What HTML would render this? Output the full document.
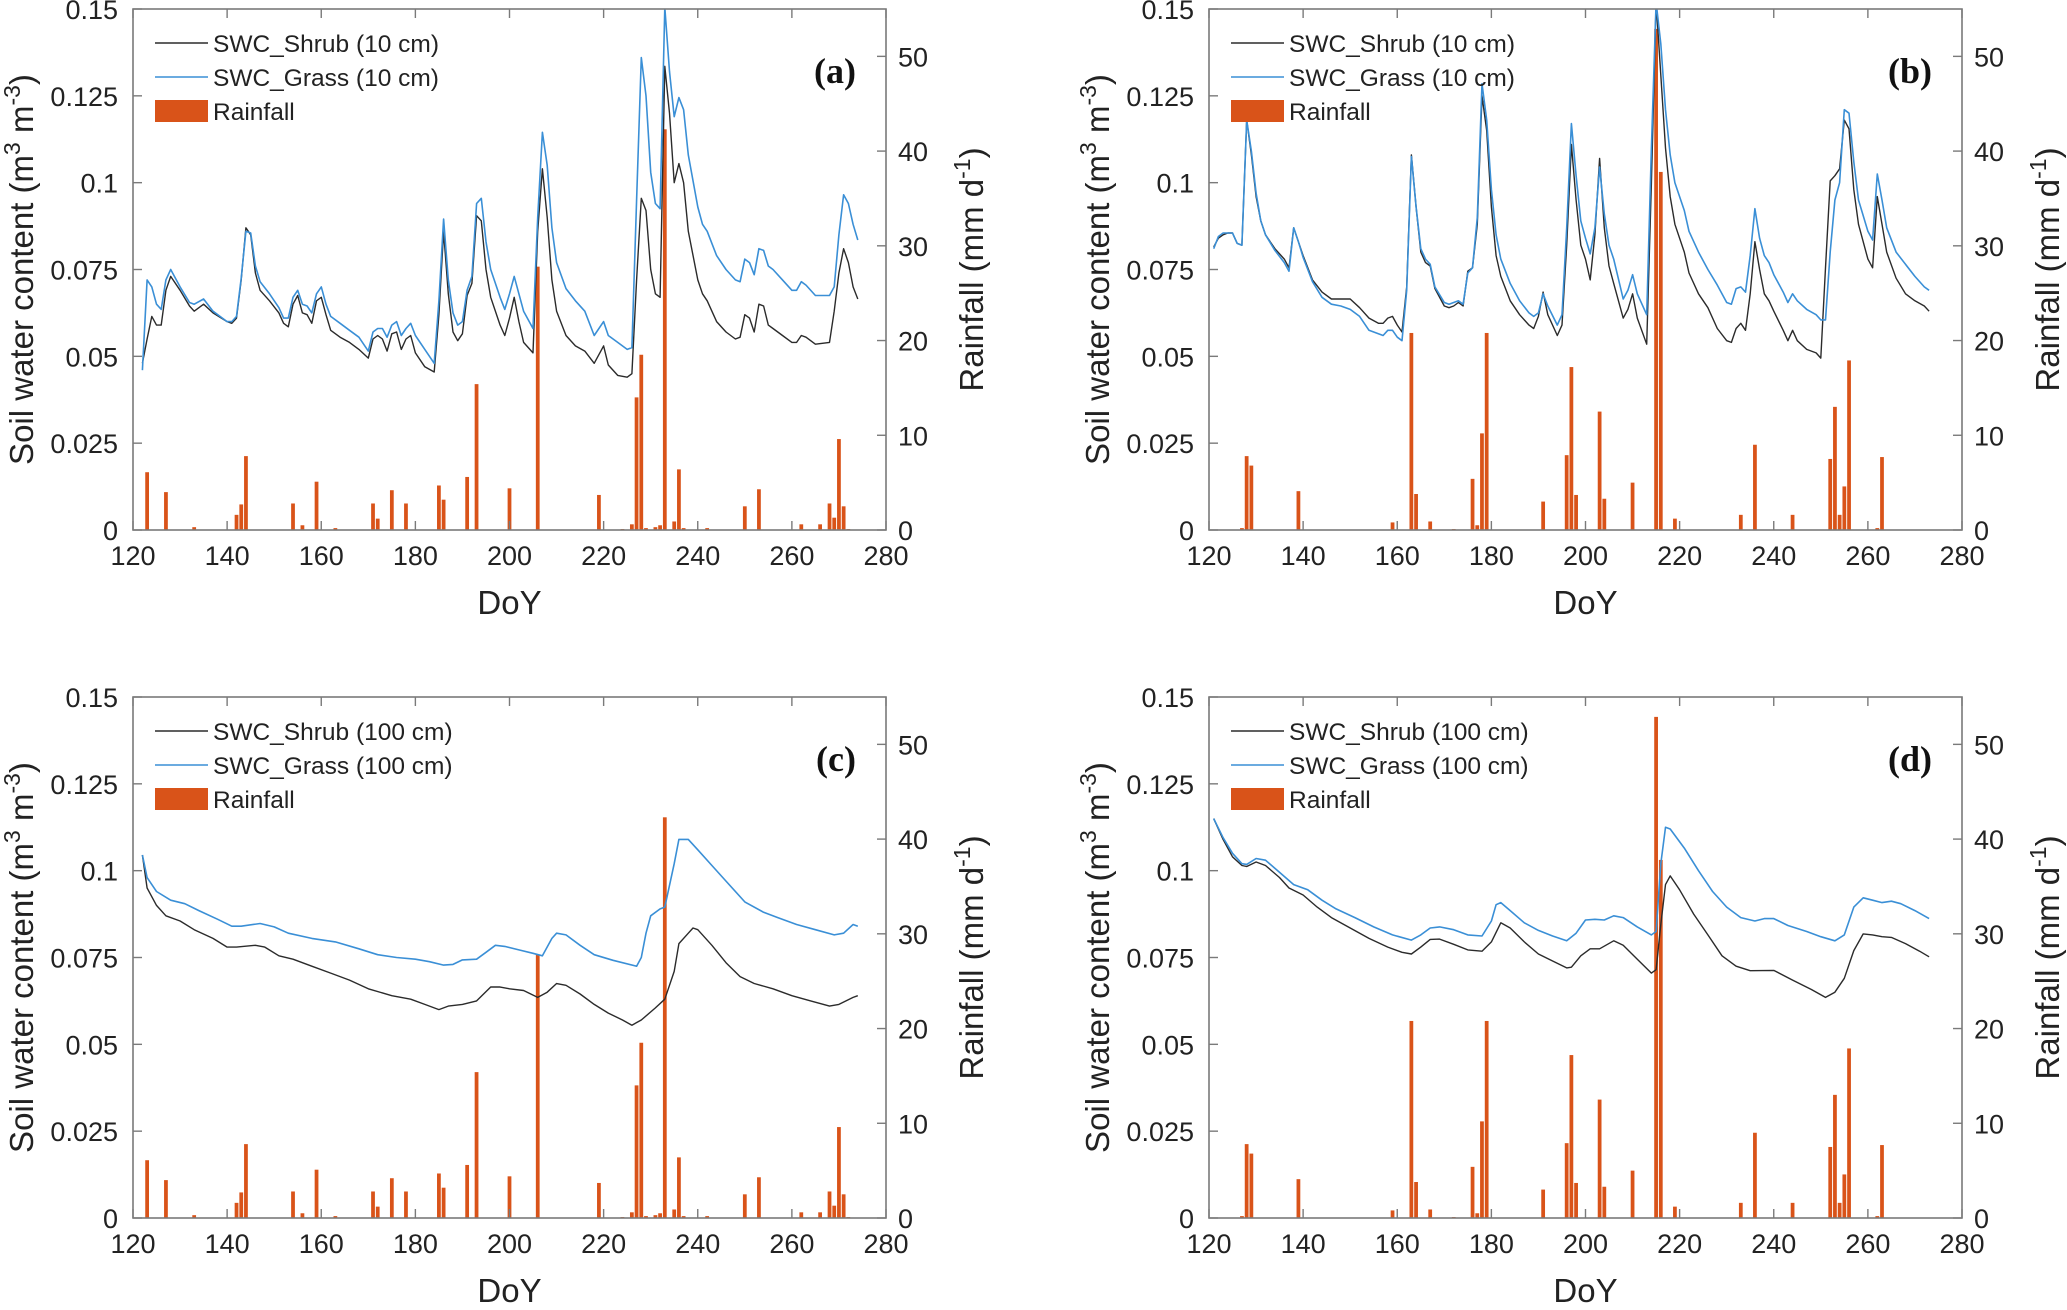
<!DOCTYPE html>
<html><head><meta charset="utf-8"><style>
html,body{margin:0;padding:0;background:#fff;}
svg{display:block;font-family:"Liberation Sans",Arial,sans-serif;}
</style></head><body>
<svg id="fig" width="2067" height="1310" viewBox="0 0 2067 1310" xmlns="http://www.w3.org/2000/svg"></svg>
<script>
// ---------- Data ----------
const xTicks=[120,140,160,180,200,220,240,260,280];
const yTicks=[0,0.025,0.05,0.075,0.1,0.125,0.15];
const yTickLabels=["0","0.025","0.05","0.075","0.1","0.125","0.15"];
const rTicks=[0,10,20,30,40,50];

// Rainfall panels a & c
const rainDayAC=[123,127,133,142,143,144,154,156,159,163,171,172,175,178,185,186,191,193,200,206,219,224,226,227,228,229,231,232,233,235,236,237,242,250,253,262,266,268,269,270,271,272];
const rainValAC=[6.1,4.0,0.3,1.6,2.7,7.8,2.8,0.5,5.1,0.2,2.8,1.2,4.2,2.8,4.7,3.2,5.6,15.4,4.4,27.8,3.7,0.1,0.6,14,18.5,0.2,0.3,0.5,42.3,0.9,6.4,0.2,0.2,2.5,4.3,0.6,0.6,2.8,1.3,9.6,2.5,0.1];
// Rainfall panels b & d
const rainDayBD=[127,128,129,139,159,163,164,167,172,176,177,178,179,191,196,197,198,203,204,210,215,216,219,233,236,244,252,253,254,255,256,262,263];
const rainValBD=[0.2,7.8,6.8,4.1,0.8,20.8,3.8,0.9,0.1,5.4,0.5,10.2,20.8,3.0,7.9,17.2,3.7,12.5,3.3,5.0,52.9,37.8,1.2,1.6,9.0,1.6,7.5,13.0,1.6,4.6,17.9,0.2,7.7];

// Panel a (10 cm)
const dayA=[122,123,124,125,126,127,128,130,132,133,135,137,140,141,142,143,144,145,146,147,149,151,152,153,154,155,156,157,158,159,160,161,162,164,166,168,170,171,172,173,174,175,176,177,178,179,180,182,184,185,186,187,188,189,190,191,192,193,194,195,196,198,199,200,201,202,203,205,206,207,208,209,210,212,214,216,218,220,221,223,225,226,227,228,229,230,231,232,233,234,235,236,237,238,240,241,242,244,246,248,249,250,251,252,253,254,255,256,258,260,261,262,263,265,268,269,270,271,272,273,274];
const shrubA=[0.048,0.055,0.0615,0.059,0.059,0.069,0.073,0.069,0.0645,0.063,0.065,0.0625,0.060,0.0595,0.061,0.072,0.087,0.085,0.074,0.069,0.066,0.0625,0.0595,0.0585,0.065,0.0675,0.0625,0.062,0.0595,0.066,0.067,0.062,0.0575,0.0555,0.054,0.052,0.0495,0.055,0.056,0.055,0.0515,0.0565,0.057,0.052,0.055,0.056,0.051,0.047,0.0455,0.062,0.086,0.068,0.057,0.0545,0.0565,0.0675,0.071,0.0905,0.089,0.075,0.067,0.059,0.056,0.061,0.067,0.060,0.054,0.051,0.086,0.104,0.090,0.072,0.063,0.056,0.053,0.0515,0.048,0.053,0.0475,0.0445,0.044,0.045,0.072,0.0955,0.092,0.075,0.068,0.067,0.1335,0.120,0.100,0.1055,0.100,0.086,0.072,0.068,0.066,0.060,0.057,0.055,0.0555,0.062,0.061,0.057,0.065,0.0645,0.059,0.058,0.056,0.054,0.054,0.056,0.0555,0.0535,0.054,0.063,0.074,0.081,0.077,0.070,0.0665];
const grassA=[0.046,0.072,0.070,0.065,0.0635,0.072,0.075,0.070,0.0655,0.065,0.0665,0.063,0.060,0.060,0.0615,0.0725,0.086,0.0855,0.076,0.0715,0.068,0.064,0.061,0.061,0.067,0.069,0.065,0.0645,0.0625,0.068,0.070,0.065,0.0615,0.0595,0.0575,0.0555,0.0515,0.057,0.058,0.058,0.0555,0.059,0.060,0.056,0.058,0.0595,0.056,0.052,0.048,0.066,0.0895,0.072,0.0625,0.059,0.060,0.069,0.073,0.094,0.0955,0.083,0.075,0.067,0.0635,0.068,0.073,0.068,0.063,0.058,0.090,0.1145,0.105,0.087,0.077,0.0695,0.066,0.063,0.056,0.060,0.056,0.054,0.052,0.0525,0.095,0.136,0.125,0.103,0.094,0.0925,0.1505,0.132,0.119,0.1245,0.121,0.108,0.093,0.088,0.086,0.079,0.075,0.072,0.0715,0.078,0.077,0.0735,0.081,0.0805,0.076,0.075,0.072,0.069,0.069,0.0715,0.0705,0.0675,0.0675,0.070,0.085,0.0965,0.094,0.088,0.0835];

// Panel b (10 cm)
const dayB=[121,122,123,124,125,126,127,128,129,130,131,132,134,136,137,138,139,140,142,144,146,148,150,152,154,156,157,158,159,160,161,162,163,164,165,166,167,168,170,171,172,173,174,175,176,177,178,179,180,181,182,184,186,188,189,190,191,192,194,195,196,197,198,199,200,201,202,203,204,205,206,208,209,210,211,213,214,215,216,217,218,219,221,222,224,226,228,230,231,232,233,234,235,236,237,238,239,240,242,243,244,245,247,249,250,251,252,253,254,255,256,257,258,260,261,262,263,264,266,268,270,272,273];
const shrubB=[0.0815,0.084,0.085,0.0855,0.0855,0.0825,0.082,0.118,0.108,0.096,0.089,0.085,0.081,0.078,0.0755,0.087,0.083,0.079,0.072,0.0685,0.0665,0.0665,0.0665,0.064,0.061,0.0595,0.0595,0.061,0.0615,0.059,0.057,0.070,0.108,0.093,0.080,0.077,0.076,0.0695,0.0645,0.064,0.0645,0.0655,0.0645,0.0745,0.0755,0.088,0.125,0.115,0.093,0.079,0.073,0.066,0.062,0.059,0.058,0.0615,0.0685,0.062,0.056,0.059,0.082,0.111,0.095,0.082,0.078,0.072,0.085,0.107,0.087,0.076,0.071,0.061,0.0635,0.068,0.061,0.0535,0.100,0.152,0.131,0.110,0.096,0.088,0.080,0.074,0.068,0.064,0.058,0.0545,0.054,0.058,0.0595,0.0575,0.068,0.083,0.075,0.068,0.066,0.063,0.0575,0.0545,0.0575,0.0545,0.052,0.051,0.0495,0.0755,0.1005,0.102,0.104,0.118,0.1155,0.098,0.088,0.078,0.0755,0.096,0.088,0.080,0.0725,0.068,0.066,0.0645,0.063];
const grassB=[0.081,0.0845,0.0855,0.0855,0.0855,0.0825,0.082,0.118,0.109,0.097,0.089,0.085,0.0805,0.077,0.0745,0.087,0.083,0.0785,0.0715,0.067,0.065,0.0645,0.0635,0.0615,0.0575,0.0565,0.056,0.0575,0.0575,0.0555,0.0545,0.069,0.1075,0.093,0.081,0.078,0.0765,0.070,0.0655,0.065,0.0655,0.066,0.065,0.074,0.0755,0.090,0.1285,0.118,0.098,0.085,0.078,0.071,0.066,0.0625,0.0615,0.0625,0.068,0.0645,0.059,0.062,0.087,0.117,0.102,0.089,0.084,0.0795,0.087,0.1045,0.091,0.082,0.078,0.0665,0.069,0.0735,0.068,0.062,0.110,0.152,0.140,0.121,0.108,0.100,0.092,0.086,0.080,0.075,0.0705,0.0655,0.065,0.0695,0.070,0.0685,0.079,0.0925,0.084,0.079,0.077,0.0735,0.0685,0.0655,0.068,0.066,0.0635,0.062,0.0605,0.0605,0.080,0.095,0.100,0.121,0.120,0.106,0.095,0.086,0.0835,0.1025,0.095,0.087,0.080,0.0765,0.073,0.070,0.069];

// Panel c (100 cm)
const dayCS=[122,123,125,127,130,133,137,140,142,146,148,151,154,158,162,166,170,175,179,182,185,187,190,193,196,198,200,203,206,208,210,212,215,218,221,224,226,228,231,233,235,236,238,239,240,243,246,249,252,256,260,264,268,270,273,274];
const shrubC=[0.1045,0.095,0.090,0.087,0.0855,0.083,0.0805,0.078,0.078,0.0785,0.078,0.0755,0.0745,0.0725,0.0705,0.0685,0.066,0.064,0.063,0.0615,0.060,0.061,0.0615,0.0625,0.0665,0.0665,0.066,0.0655,0.0635,0.065,0.0675,0.067,0.0645,0.0615,0.059,0.057,0.0555,0.057,0.0605,0.063,0.071,0.079,0.082,0.0835,0.083,0.0785,0.0735,0.0695,0.0675,0.066,0.064,0.0625,0.061,0.0615,0.0635,0.064];
const dayCG=[122,123,125,128,131,134,138,141,143,147,150,153,158,163,168,172,176,180,183,186,188,190,193,195,197,199,202,205,207,209,210,212,215,218,222,227,228,229,230,232,233,235,236,238,240,243,246,250,254,257,261,265,269,271,273,274];
const grassC=[0.1045,0.098,0.094,0.0915,0.0905,0.0885,0.086,0.084,0.084,0.0848,0.0838,0.082,0.0805,0.0795,0.0775,0.0758,0.075,0.0745,0.0738,0.0728,0.073,0.0743,0.0745,0.0765,0.0785,0.0782,0.0772,0.0762,0.0755,0.0805,0.082,0.0815,0.0785,0.0758,0.0742,0.0725,0.075,0.082,0.087,0.089,0.0895,0.102,0.109,0.109,0.106,0.1015,0.097,0.091,0.088,0.0865,0.0845,0.083,0.0815,0.082,0.0845,0.084];

// Panel d (100 cm)
const dayDS=[121,123,125,127,128,130,132,135,137,140,143,146,150,154,158,161,163,165,167,169,172,175,178,180,182,184,187,190,193,196,197,199,201,203,206,208,211,214,215,216,217,218,220,223,226,229,232,235,240,244,248,251,253,255,257,259,261,263,265,268,271,273];
const shrubD=[0.115,0.109,0.104,0.1015,0.1012,0.1025,0.1015,0.098,0.095,0.093,0.0895,0.0865,0.0835,0.0805,0.078,0.0765,0.076,0.078,0.0802,0.0803,0.0788,0.0772,0.0768,0.0795,0.085,0.0835,0.0795,0.076,0.074,0.072,0.0722,0.0755,0.0775,0.0775,0.0798,0.0785,0.0745,0.0705,0.0715,0.0845,0.096,0.0985,0.0945,0.0875,0.0815,0.0755,0.0725,0.0712,0.0713,0.0685,0.0658,0.0635,0.065,0.069,0.077,0.0818,0.0815,0.081,0.0808,0.079,0.0768,0.0752];
const dayDG=[121,123,125,127,128,130,132,135,138,141,144,147,151,155,159,163,165,167,169,172,175,178,180,181,182,184,187,190,193,196,198,200,202,204,206,208,211,214,215,216,217,218,221,224,227,230,233,236,238,240,243,247,250,253,255,257,259,261,263,265,267,270,273];
const grassD=[0.115,0.1095,0.105,0.102,0.1018,0.1035,0.103,0.0995,0.096,0.0945,0.0915,0.089,0.0865,0.0838,0.0815,0.080,0.0815,0.0835,0.0838,0.083,0.0815,0.0812,0.0855,0.0902,0.0908,0.0885,0.085,0.0828,0.0812,0.0798,0.082,0.0858,0.086,0.0858,0.087,0.0865,0.0838,0.0815,0.0825,0.102,0.1125,0.112,0.1065,0.100,0.094,0.0895,0.0865,0.0855,0.0862,0.0862,0.0842,0.0825,0.081,0.0798,0.0815,0.0895,0.0922,0.0915,0.0908,0.0912,0.0905,0.0885,0.0862];

// ---------- Rendering ----------
const NS="http://www.w3.org/2000/svg";
const fig=document.getElementById('fig');
function mk(tag,attrs,parent){const e=document.createElementNS(NS,tag);for(const k in attrs)e.setAttribute(k,attrs[k]);(parent||fig).appendChild(e);return e;}

function panel(id,L,R,T,B,letter,depth,rd,rv,sd,sv,gd,gv){
  const g=mk('g',{});
  
  
  const xs=d=>L+(d-120)/160*(R-L);
  const ys=v=>B-v/0.15*(B-T);
  const yr=v=>B-v/55*(B-T);
  const clip=mk('clipPath',{id:'clip'+id},g);
  mk('rect',{x:L,y:T,width:R-L,height:B-T},clip);
  const bw=(R-L)/160*0.8;
  const barsG=mk('g',{'clip-path':'url(#clip'+id+')'},g);
  
  
  rd.forEach((d,i)=>{
    const y=yr(rv[i]);
    const r=mk('rect',{x:xs(d)-bw/2,y:y,width:bw,height:Math.max(B-y,0.6),fill:'#d95319'},barsG);
    
    
  });
  const lineG=mk('g',{'clip-path':'url(#clip'+id+')'},g);
  const pts=(ds,vs)=>ds.map((d,i)=>xs(d).toFixed(1)+','+ys(vs[i]).toFixed(1)).join(' ');
  const pl1=mk('polyline',{points:pts(sd,sv),fill:'none',stroke:'#2b2b2b','stroke-width':1.4,'stroke-linejoin':'round'},lineG);
  
  
  const pl2=mk('polyline',{points:pts(gd,gv),fill:'none',stroke:'#3a8fd6','stroke-width':1.6,'stroke-linejoin':'round'},lineG);
  
  
  const fr=mk('rect',{x:L,y:T,width:R-L,height:B-T,fill:'none',stroke:'#7a7a7a','stroke-width':1.6},g);
  
  
  xTicks.forEach(t=>{
    const x=xs(t);
    mk('line',{x1:x,y1:B,x2:x,y2:B-9,stroke:'#7a7a7a','stroke-width':1.4},g);
    mk('line',{x1:x,y1:T,x2:x,y2:T+9,stroke:'#7a7a7a','stroke-width':1.4},g);
    const tx=mk('text',{x:x,y:B+35,'font-size':27,'text-anchor':'middle',fill:'#222'},g);
    tx.textContent=t;
    
    
  });
  yTicks.forEach((t,i)=>{
    const y=ys(t);
    mk('line',{x1:L,y1:y,x2:L+9,y2:y,stroke:'#7a7a7a','stroke-width':1.4},g);
    const tx=mk('text',{x:L-15,y:y+10,'font-size':27,'text-anchor':'end',fill:'#222'},g);
    tx.textContent=yTickLabels[i];
    
    
  });
  rTicks.forEach(t=>{
    const y=yr(t);
    mk('line',{x1:R,y1:y,x2:R-9,y2:y,stroke:'#7a7a7a','stroke-width':1.4},g);
    const tx=mk('text',{x:R+12,y:y+10,'font-size':27,'text-anchor':'start',fill:'#222'},g);
    tx.textContent=t;
    
    
  });
  const xt=mk('text',{x:(L+R)/2,y:B+84,'font-size':33,'text-anchor':'middle',fill:'#222'},g);
  xt.textContent='DoY';
  
  
  const cy=(T+B)/2;
  const yl=mk('text',{x:0,y:0,'font-size':33,'text-anchor':'middle',fill:'#222',transform:`translate(${L-100},${cy}) rotate(-90)`},g);
  yl.innerHTML='Soil water content (m<tspan dy="-13" font-size="23">3</tspan><tspan dy="13"> m</tspan><tspan dy="-13" font-size="23">-3</tspan><tspan dy="13">)</tspan>';
  
  
  const yr2=mk('text',{x:0,y:0,'font-size':33,'text-anchor':'middle',fill:'#222',transform:`translate(${R+97},${cy}) rotate(-90)`},g);
  yr2.innerHTML='Rainfall (mm d<tspan dy="-13" font-size="23">-1</tspan><tspan dy="13">)</tspan>';
  
  
  const lg=mk('g',{},g);
  
  
  const lx=L+22, ly=T+34;
  const rows=[['SWC_Shrub ('+depth+' cm)','#2b2b2b'],['SWC_Grass ('+depth+' cm)','#3a8fd6']];
  rows.forEach((r,i)=>{
    const y=ly+i*34;
    mk('line',{x1:lx,y1:y,x2:lx+53,y2:y,stroke:r[1],'stroke-width':1.6},lg);
    const t=mk('text',{x:lx+58,y:y+9,'font-size':24.5,fill:'#222'},lg);
    t.textContent=r[0];
    
    
  });
  mk('rect',{x:lx,y:ly+57,width:53,height:22,fill:'#d95319'},lg);
  const t3=mk('text',{x:lx+58,y:ly+77,'font-size':24.5,fill:'#222'},lg);
  t3.textContent='Rainfall';
  
  
  const pl=mk('text',{x:R-30,y:T+74,'font-size':36,'font-weight':'bold','text-anchor':'end',fill:'#111','font-family':'"Liberation Serif",serif'},g);
  pl.textContent='('+letter+')';
  
  
}
panel('a',133,886,9,530,'a','10',rainDayAC,rainValAC,dayA,shrubA,dayA,grassA);
panel('b',1209,1962,9,530,'b','10',rainDayBD,rainValBD,dayB,shrubB,dayB,grassB);
panel('c',133,886,697,1218,'c','100',rainDayAC,rainValAC,dayCS,shrubC,dayCG,grassC);
panel('d',1209,1962,697,1218,'d','100',rainDayBD,rainValBD,dayDS,shrubD,dayDG,grassD);
</script>
</body></html>
